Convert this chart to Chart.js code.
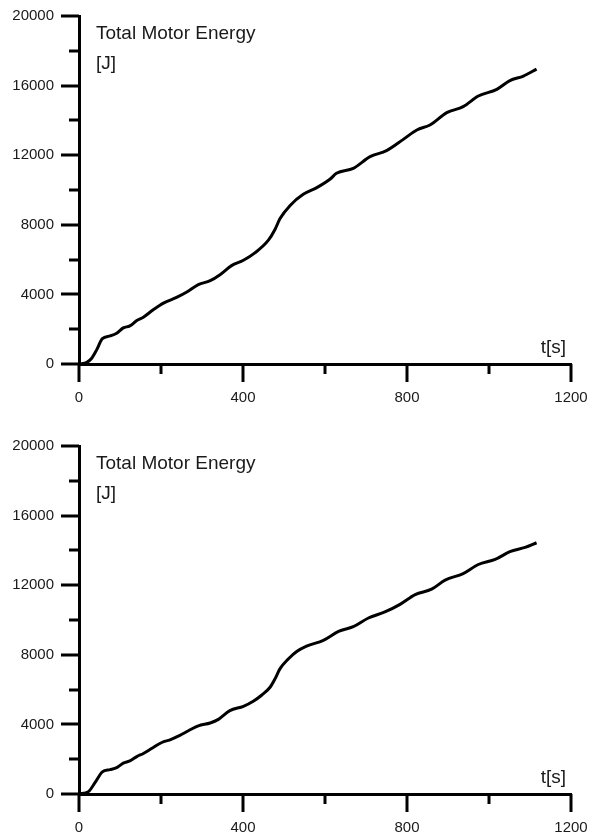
<!DOCTYPE html>
<html>
<head>
<meta charset="utf-8">
<script src="https://cdn.jsdelivr.net/npm/chart.js@4.4.1/dist/chart.umd.min.js"></script>
<style>
  html, body { margin: 0; padding: 0; background: #fff; }
  body { width: 590px; height: 836px; position: relative; overflow: hidden; }
  .box { position: absolute; left: 0; width: 590px; height: 406px; }
  #box1 { top: 0; }
  #box2 { top: 430px; }
</style>
</head>
<body>
<div class="box" id="box1"><canvas id="c1"></canvas></div>
<div class="box" id="box2"><canvas id="c2"></canvas></div>
<script>
// ---- data ----
const time1 = [0, 19, 31, 43, 57, 76, 92, 108, 124, 141, 157, 181, 206, 238, 263, 291, 320, 344, 372, 401, 429, 462, 478, 490, 515, 547, 580, 612, 628, 669, 710, 750, 791, 824, 856, 897, 937, 974, 1019, 1051, 1084, 1116];
const energy1 = [0, 96, 330, 810, 1460, 1615, 1770, 2075, 2190, 2500, 2690, 3115, 3500, 3825, 4135, 4560, 4790, 5135, 5655, 5960, 6385, 7115, 7730, 8345, 9115, 9750, 10135, 10615, 10960, 11245, 11915, 12260, 12910, 13450, 13735, 14445, 14790, 15400, 15785, 16285, 16550, 16950];

const time2 = [0, 23, 39, 57, 76, 92, 108, 124, 141, 157, 177, 202, 222, 246, 267, 291, 320, 340, 368, 401, 425, 446, 466, 478, 490, 511, 531, 555, 596, 633, 669, 706, 746, 783, 820, 860, 893, 937, 974, 1015, 1051, 1088, 1116];
const energy2 = [0, 135, 650, 1270, 1400, 1520, 1770, 1900, 2150, 2330, 2615, 2960, 3115, 3365, 3635, 3920, 4080, 4290, 4790, 5040, 5330, 5690, 6135, 6615, 7190, 7770, 8190, 8500, 8830, 9345, 9615, 10115, 10460, 10900, 11460, 11770, 12290, 12670, 13190, 13480, 13925, 14170, 14440];

const xTickValues = [0, 200, 400, 600, 800, 1000, 1200];
const xLabelValues = [0, 400, 800, 1200];
const yTickValues = [0, 2000, 4000, 6000, 8000, 10000, 12000, 14000, 16000, 18000, 20000];
const yLabelValues = [0, 4000, 8000, 12000, 16000, 20000];

const titleText = 'Total Motor Energy';
const unitText = '[J]';
const xAxisText = 't[s]';

const FONT = 'Arial, "Liberation Sans", sans-serif';

const tickPlugin = {
  id: 'axisDecor',
  afterDraw(chart) {
    const ctx = chart.ctx;
    const xs = chart.scales.x, ys = chart.scales.y;
    const area = chart.chartArea;
    ctx.save();
    ctx.strokeStyle = '#000';
    ctx.lineWidth = 3;
    ctx.lineCap = 'butt';
    ctx.beginPath();
    xTickValues.forEach(v => {
      const px = Math.round(xs.getPixelForValue(v));
      const len = xLabelValues.includes(v) ? 18 : 10;
      ctx.moveTo(px, area.bottom);
      ctx.lineTo(px, area.bottom + len);
    });
    yTickValues.forEach(v => {
      const py = Math.round(ys.getPixelForValue(v));
      const len = yLabelValues.includes(v) ? 18 : 10;
      ctx.moveTo(area.left, py);
      ctx.lineTo(area.left - len, py);
    });
    ctx.stroke();

    ctx.fillStyle = '#1a1a1a';
    ctx.font = '19px ' + FONT;
    ctx.textBaseline = 'alphabetic';
    ctx.textAlign = 'left';
    ctx.fillText(titleText, area.left + 17, area.top + 23);
    ctx.fillText(unitText, area.left + 17, area.top + 53);
    ctx.textAlign = 'right';
    ctx.fillText(xAxisText, area.right - 5, area.bottom - 11);
    ctx.restore();
  }
};

function zeroPad(scale) {
  scale.paddingTop = 0; scale.paddingBottom = 0;
  scale.paddingLeft = 0; scale.paddingRight = 0;
}

function makeChart(id, times, values) {
  const pts = times.map((t, i) => ({ x: t, y: values[i] }));
  return new Chart(document.getElementById(id), {
    type: 'line',
    data: {
      datasets: [{
        data: pts,
        borderColor: '#000',
        borderWidth: 3,
        pointRadius: 0,
        fill: false,
        tension: 0.4,
        cubicInterpolationMode: 'monotone'
      }]
    },
    options: {
      responsive: true,
      maintainAspectRatio: false,
      animation: false,
      events: [],
      layout: { padding: { top: 16, left: 0, right: 19, bottom: 0 } },
      plugins: { legend: { display: false }, tooltip: { enabled: false }, title: { display: false } },
      scales: {
        x: {
          type: 'linear',
          min: 0, max: 1200,
          afterFit(scale) { scale.height = 42; zeroPad(scale); },
          afterBuildTicks(scale) { scale.ticks = xLabelValues.map(v => ({ value: v })); },
          grid: { display: false, drawTicks: false },
          border: { display: true, color: '#000', width: 3 },
          ticks: {
            padding: 25,
            color: '#1a1a1a',
            maxRotation: 0,
            autoSkip: false,
            font: { family: FONT, size: 15 },
            callback: v => String(v)
          }
        },
        y: {
          type: 'linear',
          min: 0, max: 20000,
          afterFit(scale) { scale.width = 79; zeroPad(scale); },
          afterBuildTicks(scale) { scale.ticks = yLabelValues.map(v => ({ value: v })); },
          grid: { display: false, drawTicks: false },
          border: { display: true, color: '#000', width: 3 },
          ticks: {
            padding: 25,
            color: '#1a1a1a',
            autoSkip: false,
            font: { family: FONT, size: 15 },
            callback: v => String(v)
          }
        }
      }
    },
    plugins: [tickPlugin]
  });
}

makeChart('c1', time1, energy1);
makeChart('c2', time2, energy2);
</script>
</body>
</html>
